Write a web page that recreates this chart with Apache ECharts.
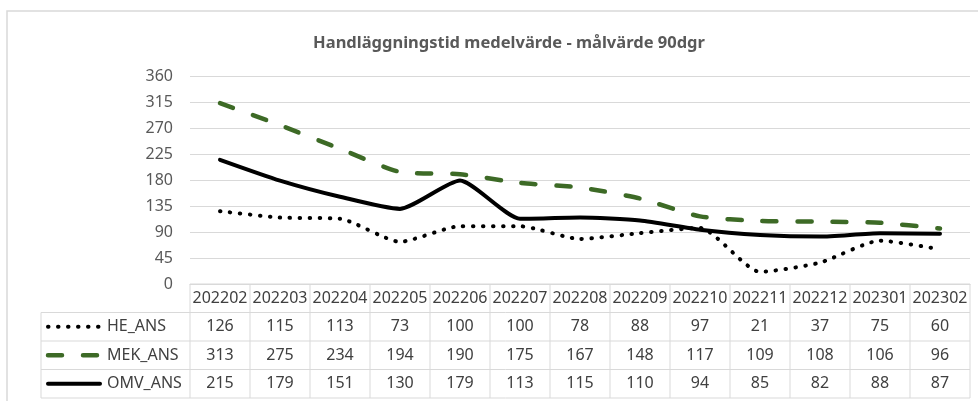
<!DOCTYPE html>
<html>
<head>
<meta charset="utf-8">
<script src="https://cdn.jsdelivr.net/npm/echarts@6/dist/echarts.min.js"></script>
<style>
  html, body { margin: 0; padding: 0; background: #fff; }
  #chart { width: 978px; height: 401px; }
</style>
</head>
<body>
<div id="chart"></div>
<script>
// data
var categories = ['202202', '202203', '202204', '202205', '202206', '202207', '202208',
  '202209', '202210', '202211', '202212', '202301', '202302']
var heAns = [126, 115, 113, 73, 100, 100, 78, 88, 97, 21, 37, 75, 60]
var mekAns = [313, 275, 234, 194, 190, 175, 167, 148, 117, 109, 108, 106, 96]
var omvAns = [215, 179, 151, 130, 179, 113, 115, 110, 94, 85, 82, 88, 87]
var yMin = 0
var yMax = 360
var yStep = 45

var FONT = '"Noto Sans", sans-serif'
var GRID = '#d9d9d9'
var TXT = '#595959'
var GREEN = '#3d6a26'

var seriesDefs = [
  { name: 'HE_ANS', data: heAns, color: '#000', width: 4, type: [0.5, 9.5], cap: 'round' },
  { name: 'MEK_ANS', data: mekAns, color: GREEN, width: 4.5, type: [14, 21], cap: 'round' },
  { name: 'OMV_ANS', data: omvAns, color: '#000', width: 4, type: 'solid', cap: 'round' }
]

var chart = echarts.init(document.getElementById('chart'), null, { renderer: 'canvas' })

chart.setOption({
  animation: false,
  backgroundColor: '#fff',
  title: {
    text: 'Handläggningstid medelvärde - målvärde 90dgr',
    left: 504,
    top: 30,
    textAlign: 'center',
    textStyle: { fontFamily: FONT, fontSize: 16.5, fontWeight: 'bold', color: TXT }
  },
  grid: { left: 190, right: 8, top: 76, bottom: 117 },
  xAxis: {
    type: 'category',
    data: categories,
    boundaryGap: true,
    axisLine: { show: true, lineStyle: { color: GRID } },
    axisTick: { show: false },
    axisLabel: { show: false }
  },
  yAxis: {
    type: 'value',
    min: yMin,
    max: yMax,
    interval: yStep,
    axisLine: { show: false },
    axisTick: { show: false },
    axisLabel: { fontFamily: FONT, fontSize: 16, color: TXT, margin: 17 },
    splitLine: { lineStyle: { color: GRID, width: 1 } }
  },
  series: seriesDefs.map(function (s) {
    return {
      name: s.name,
      type: 'line',
      data: s.data,
      smooth: 0.2,
      symbol: 'none',
      lineStyle: { color: s.color, width: s.width, type: s.type, cap: s.cap, join: 'round' }
    }
  })
})

// data table under the plot, laid out from the x axis positions
function buildTable() {
  var c0 = chart.convertToPixel({ xAxisIndex: 0 }, categories[0])
  var c1 = chart.convertToPixel({ xAxisIndex: 0 }, categories[1])
  var band = c1 - c0
  var left = c0 - band / 2
  var right = left + band * categories.length
  var top = chart.convertToPixel({ yAxisIndex: 0 }, yMin)
  var rowH = 28.5
  var keyLeft = 41
  var els = []
  var lineStyle = { stroke: GRID, lineWidth: 1 }
  function hline(x1, x2, y) {
    els.push({ type: 'line', silent: true, shape: { x1: x1, y1: y, x2: x2, y2: y }, style: lineStyle })
  }
  function vline(x, y1, y2) {
    els.push({ type: 'line', silent: true, shape: { x1: x, y1: y1, x2: x, y2: y2 }, style: lineStyle })
  }
  function txt(x, y, s, align) {
    els.push({
      type: 'text', silent: true, x: x, y: y,
      style: { text: s, fill: '#404040', font: '16px ' + FONT, align: align || 'center', verticalAlign: 'middle' }
    })
  }
  var bottom = top + rowH * 4
  hline(left, right, top)
  for (var r = 1; r <= 4; r++) hline(keyLeft, right, top + rowH * r)
  for (var k = 0; k <= categories.length; k++) vline(left + band * k, top, bottom)
  vline(keyLeft, top + rowH, bottom)
  categories.forEach(function (c, i) {
    txt(left + band * (i + 0.5), top + rowH / 2, c)
  })
  seriesDefs.forEach(function (s, r) {
    var cy = top + rowH * (r + 1.5)
    els.push({
      type: 'line', silent: true,
      shape: { x1: 48, y1: cy, x2: 100, y2: cy },
      style: { stroke: s.color, lineWidth: s.width, lineDash: s.type === 'solid' ? null : s.type, lineCap: s.cap }
    })
    txt(107, cy, s.name, 'left')
    s.data.forEach(function (v, i) {
      txt(left + band * (i + 0.5), cy, String(v))
    })
  })
  // outer chart border
  els.push({
    type: 'rect', silent: true,
    shape: { x: 7, y: 11, width: 990, height: 420 },
    style: { fill: null, stroke: GRID, lineWidth: 1.5 }
  })
  chart.setOption({ graphic: els })
}
buildTable()
</script>
</body>
</html>
